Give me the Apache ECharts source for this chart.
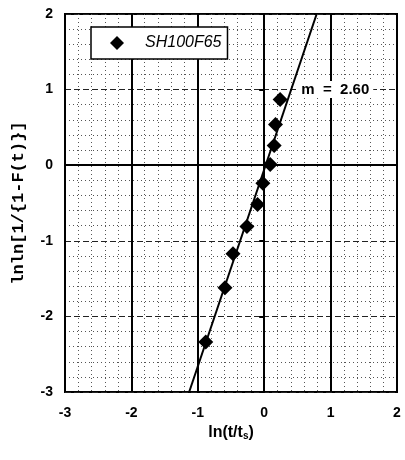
<!DOCTYPE html>
<html>
<head>
<meta charset="utf-8">
<script src="https://cdn.jsdelivr.net/npm/echarts@6/dist/echarts.min.js"></script>
<style>
html,body{margin:0;padding:0;background:#fff;}
#chart1{width:405px;height:460px;}
</style>
</head>
<body>
<div id="chart1"></div>
<script>
// data
var seriesName = 'SH100F65';
var ptX = [-0.88, -0.59, -0.47, -0.26, -0.10, -0.02, 0.09, 0.15, 0.17, 0.24];
var ptY = [-2.34, -1.62, -1.17, -0.81, -0.52, -0.24, 0.01, 0.26, 0.54, 0.87];
var fitX = [-1.13, 0.79];
var fitY = [-3, 2];
var slopeText = 'm  =  2.60';
var slopeAt = [1.07, 1];

var pts = [], fit = [];
for(var i=0;i<ptX.length;i++){
	pts[i] = [ptX[i], ptY[i]];
}
for(var i=0;i<fitX.length;i++){
	fit[i] = [fitX[i], fitY[i]];
}

var chart1 = echarts.init(document.getElementById('chart1'));
chart1.setOption({
	animation:false,
	grid:{
		left:65, right:8, top:14, bottom:68,
		show:true, borderColor:'#000', borderWidth:2
	},
	legend:{
		data:[seriesName],
		left:91, top:27,
		padding:[8, 6, 8, 19],
		itemWidth:14, itemHeight:14,
		backgroundColor:'#fff',
		borderColor:'#000', borderWidth:1.5,
		borderRadius:0,
		textStyle:{
			fontFamily:'Liberation Sans', fontStyle:'italic', fontSize:16,
			color:'#000', padding:[0,0,0,16]
		}
	},
	xAxis:{
		type:'value', min:-3, max:2, interval:1,
		name:'ln(t/t{s|s})',
		nameLocation:'middle', nameGap:33,
		nameTextStyle:{
			fontFamily:'Liberation Sans', fontSize:16, fontWeight:'bold', color:'#000',
			rich:{s:{fontFamily:'Liberation Sans', fontSize:10, fontWeight:'bold', color:'#000', padding:[6,0,0,0]}}
		},
		axisLine:{lineStyle:{color:'#000', width:2}},
		axisTick:{show:true, length:5, lineStyle:{color:'#000', width:2}},
		axisLabel:{fontFamily:'Liberation Sans', fontSize:14, fontWeight:'bold', color:'#000', margin:14},
		splitLine:{show:true, lineStyle:{color:'#000', width:2}},
		minorTick:{show:false, splitNumber:5},
		minorSplitLine:{show:true, lineStyle:{color:'#555', width:1, type:[1,3]}}
	},
	yAxis:{
		type:'value', min:-3, max:2, interval:1,
		name:'lnln[1/{1-F(t)}]',
		nameLocation:'middle', nameGap:38, nameRotate:90,
		nameTextStyle:{fontFamily:'Liberation Mono', fontSize:17, fontWeight:'bold', color:'#000'},
		axisLine:{lineStyle:{color:'#000', width:2}},
		axisTick:{show:true, length:5, lineStyle:{color:'#000', width:2}},
		axisLabel:{fontFamily:'Liberation Sans', fontSize:14, fontWeight:'bold', color:'#000', margin:12},
		splitLine:{show:true, lineStyle:{color:'#222', width:1, type:[6,3]}},
		minorTick:{show:false, splitNumber:5},
		minorSplitLine:{show:true, lineStyle:{color:'#555', width:1, type:[1,3]}}
	},
	series:[
		{
			name:'fit',
			type:'line',
			data:fit,
			symbol:'none',
			lineStyle:{color:'#000', width:2},
			silent:true,
			z:3,
			markPoint:{
				symbol:'rect', symbolSize:1,
				itemStyle:{color:'transparent'},
				label:{
					show:true, position:'inside',
					formatter:slopeText,
					fontFamily:'Liberation Sans', fontSize:15, fontWeight:'bold', color:'#000',
					backgroundColor:'#fff', padding:[1,4,1,4]
				},
				data:[{coord:slopeAt}]
			}
		},
		{
			name:seriesName,
			type:'scatter',
			data:pts,
			symbol:'diamond',
			symbolSize:15,
			itemStyle:{color:'#000', opacity:1},
			z:4
		}
	]
});
</script>
</body>
</html>
